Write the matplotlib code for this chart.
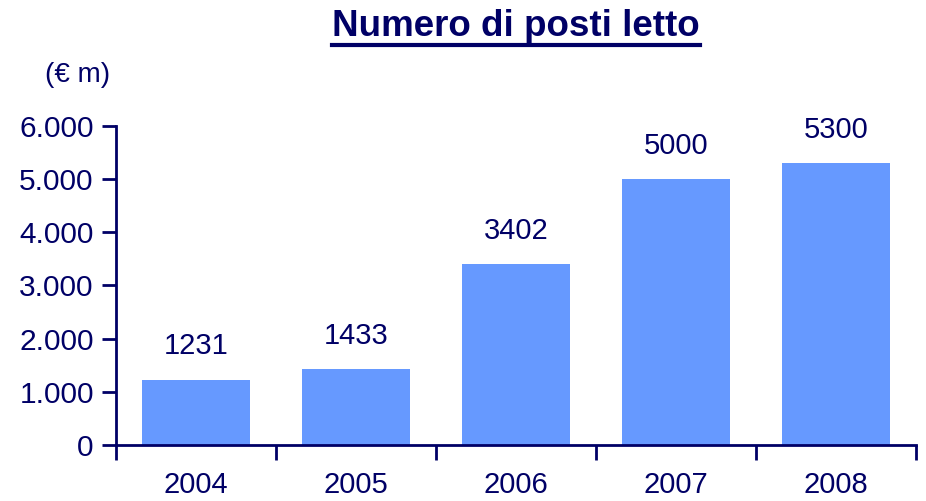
import matplotlib
matplotlib.use('Agg')
import matplotlib.pyplot as plt
from matplotlib.lines import Line2D

# dati
anni = ['2004', '2005', '2006', '2007', '2008']
posti_letto = [1231, 1433, 3402, 5000, 5300]
yticks = [0, 1000, 2000, 3000, 4000, 5000, 6000]
ytick_labels = ['0', '1.000', '2.000', '3.000', '4.000', '5.000', '6.000']

navy = '#000066'
plt.rcParams['font.family'] = ['Liberation Sans', 'DejaVu Sans']

fig = plt.figure(figsize=(9.26, 5.01), dpi=100)
ax = fig.add_axes([0.1253, 0.1118, 0.8639, 0.6367])

x = list(range(len(anni)))
ax.bar(x, posti_letto, width=0.675, color='#6699FF', zorder=2)

# etichette sopra le barre
for xi, v in zip(x, posti_letto):
    ax.text(xi, v + 360, str(v), ha='center', va='bottom', fontsize=21, color=navy)

ax.set_xlim(-0.5, len(anni) - 0.5)
ax.set_ylim(0, 6000)
ax.set_yticks(yticks)
ax.set_yticklabels(ytick_labels)

# tick dell'asse x sui confini tra le categorie
ax.set_xticks([i - 0.5 for i in range(len(anni) + 1)])
ax.set_xticklabels([])
ax.set_xticks(x, minor=True)
ax.set_xticklabels(anni, minor=True)
ax.tick_params(axis='x', which='minor', length=0, pad=19, labelsize=21, labelcolor=navy)
ax.tick_params(axis='x', which='major', length=11, width=2, color=navy, direction='out')
ax.tick_params(axis='y', length=10, width=2, color=navy, direction='out', labelsize=21.5,
               labelcolor=navy, pad=6)

for s in ['top', 'right']:
    ax.spines[s].set_visible(False)
for s in ['left', 'bottom']:
    ax.spines[s].set_color(navy)
    ax.spines[s].set_linewidth(2)

# titolo sottolineato
title = fig.text(0.557, 0.948, 'Numero di posti letto', ha='center', va='center',
                 fontsize=26.5, fontweight='bold', color=navy)
fig.text(0.084, 0.85, '(€ m)', ha='center', va='center', fontsize=20, color=navy)

fig.canvas.draw()
bb = title.get_window_extent().transformed(fig.transFigure.inverted())
fig.add_artist(Line2D([bb.x0, bb.x1], [bb.y0 - 0.002, bb.y0 - 0.002],
                      transform=fig.transFigure, color=navy, linewidth=3))

fig.savefig('out.png', dpi=100)
